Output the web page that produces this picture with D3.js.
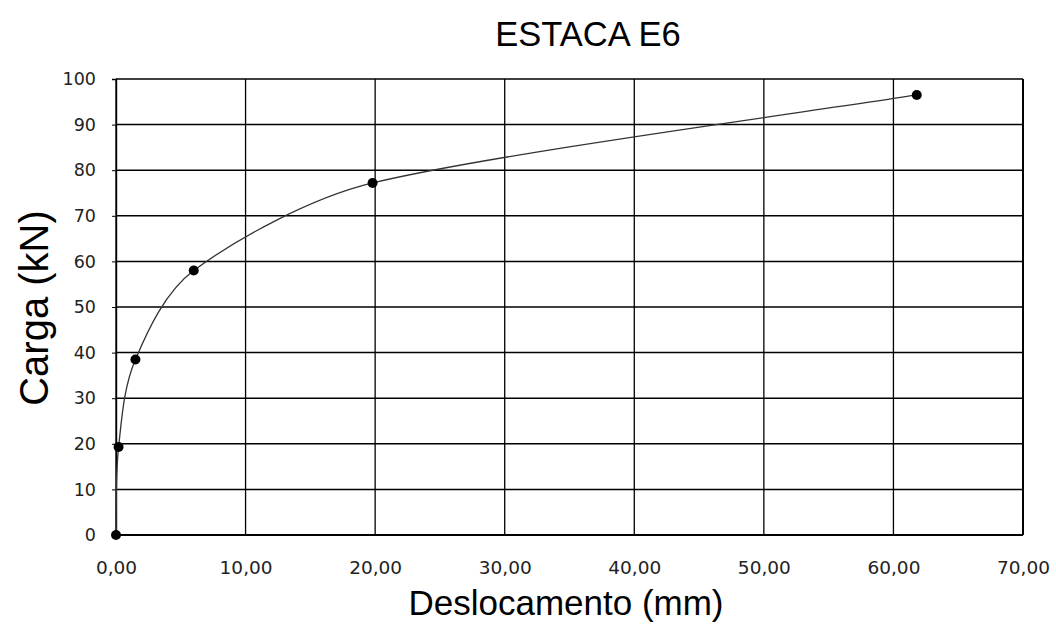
<!DOCTYPE html>
<html>
<head>
<meta charset="utf-8">
<script src="https://cdn.jsdelivr.net/npm/d3@7"></script>
<style>
  html, body { margin: 0; padding: 0; background: #fff; }
  svg { display: block; }
</style>
</head>
<body>
<script>
// Load test of pile E6: displacement (mm) vs load (kN)
const deslocamento = [0.0, 0.2, 1.5, 6.0, 19.8, 61.8];
const carga        = [0.0, 19.3, 38.5, 58.0, 77.2, 96.5];

const xTicks = [0, 10, 20, 30, 40, 50, 60, 70];
const yTicks = [0, 10, 20, 30, 40, 50, 60, 70, 80, 90, 100];

const title = "ESTACA E6";
const xTitle = "Deslocamento (mm)";
const yTitle = "Carga (kN)";

const W = 1056, H = 626;
const margin = { left: 116, right: 33, top: 79, bottom: 91 };

const svg = d3.select("body").append("svg")
  .attr("width", W).attr("height", H);

const x = d3.scaleLinear().domain([0, 70]).range([margin.left, W - margin.right]);
const y = d3.scaleLinear().domain([0, 100]).range([H - margin.bottom, margin.top]);

const fmt = d => d.toFixed(2).replace(".", ",");

// Smoothed spreadsheet-style line: cubic Bezier through every point, with the
// tangent taken from the neighbouring points and its reach capped by segment length.
function smoothCurve(context) {
  let pts = [];
  const sub = (a, b) => [a[0] - b[0], a[1] - b[1]];
  const len = v => Math.hypot(v[0], v[1]);
  const reach = (v, seg) => {
    const l = len(v);
    const f = l === 0 ? 0 : Math.min(1 / 6, seg / (3 * l));
    return [v[0] * f, v[1] * f];
  };
  return {
    areaStart() {}, areaEnd() {},
    lineStart() { pts = []; },
    point(px, py) { pts.push([+px, +py]); },
    lineEnd() {
      const n = pts.length;
      if (!n) return;
      context.moveTo(pts[0][0], pts[0][1]);
      for (let i = 0; i < n - 1; i++) {
        const p0 = pts[Math.max(i - 1, 0)], p1 = pts[i], p2 = pts[i + 1], p3 = pts[Math.min(i + 2, n - 1)];
        const seg = len(sub(p2, p1));
        const t1 = reach(sub(p2, p0), seg), t2 = reach(sub(p3, p1), seg);
        context.bezierCurveTo(p1[0] + t1[0], p1[1] + t1[1], p2[0] - t2[0], p2[1] - t2[1], p2[0], p2[1]);
      }
    }
  };
}

// grid
const grid = svg.append("g");
grid.selectAll("line.h").data(yTicks).join("line")
  .attr("x1", x(0)).attr("x2", x(70))
  .attr("y1", d => y(d)).attr("y2", d => y(d))
  .attr("stroke", "#000").attr("stroke-width", d => d === 0 ? 2 : 1.5);
grid.selectAll("line.v").data(xTicks).join("line")
  .attr("y1", y(0)).attr("y2", y(100))
  .attr("x1", d => x(d)).attr("x2", d => x(d))
  .attr("stroke", "#000").attr("stroke-width", d => d === 70 ? 2 : 1.3);

// y axis
const yAxis = d3.axisLeft(y).tickValues(yTicks).tickSize(4).tickPadding(16).tickFormat(d3.format("d"));
const gy = svg.append("g").attr("transform", `translate(${x(0)},0)`).call(yAxis);
gy.select(".domain").attr("stroke", "#000").attr("stroke-width", 1.4);
gy.selectAll(".tick line").attr("stroke", "#000");
gy.selectAll(".tick text")
  .attr("font-family", "DejaVu Sans, sans-serif").attr("font-size", 17.5)
  .attr("fill", "#222");

// x axis
const xAxis = d3.axisBottom(x).tickValues(xTicks).tickSize(0).tickPadding(26).tickFormat(fmt);
const gx = svg.append("g").attr("transform", `translate(0,${y(0)})`).call(xAxis);
gx.select(".domain").remove();
gx.selectAll(".tick text")
  .attr("font-family", "DejaVu Sans, sans-serif").attr("font-size", 18.5)
  .attr("fill", "#222");

// series
const pts = deslocamento.map((d, i) => [d, carga[i]]);
const line = d3.line().x(d => x(d[0])).y(d => y(d[1])).curve(smoothCurve);
svg.append("path").datum(pts)
  .attr("d", line).attr("fill", "none")
  .attr("stroke", "#333").attr("stroke-width", 1.3);
svg.selectAll("circle.pt").data(pts).join("circle")
  .attr("cx", d => x(d[0])).attr("cy", d => y(d[1])).attr("r", 5)
  .attr("fill", "#000");

// titles
svg.append("text").attr("x", 588).attr("y", 46).attr("text-anchor", "middle")
  .attr("font-family", "Liberation Sans, Arial, sans-serif").attr("font-size", 34.5)
  .attr("fill", "#000").text(title);
svg.append("text").attr("x", 566).attr("y", 615).attr("text-anchor", "middle")
  .attr("font-family", "Liberation Sans, Arial, sans-serif").attr("font-size", 35)
  .attr("fill", "#000").text(xTitle);
svg.append("text").attr("transform", `translate(48,308) rotate(-90)`).attr("text-anchor", "middle")
  .attr("font-family", "Liberation Sans, Arial, sans-serif").attr("font-size", 40)
  .attr("fill", "#000").text(yTitle);
</script>
</body>
</html>
